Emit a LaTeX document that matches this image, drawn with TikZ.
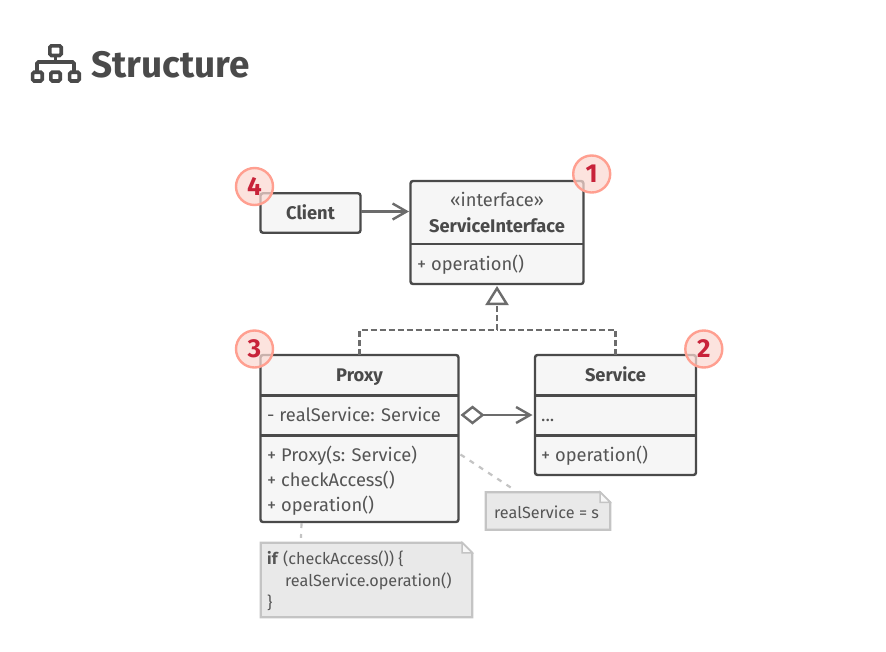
\documentclass[tikz,border=0pt]{standalone}
\usepackage{fontspec}
\setmainfont{Fira Sans}
\usetikzlibrary{arrows.meta,calc}
\definecolor{ink}{HTML}{4A4A4A}
\definecolor{wire}{HTML}{6C6C6C}
\definecolor{txt}{HTML}{555555}
\definecolor{boxfill}{HTML}{F6F6F6}
\definecolor{notefill}{HTML}{E9E9E9}
\definecolor{noteline}{HTML}{C4C4C4}
\definecolor{ring}{HTML}{FF9F90}
\definecolor{badgefill}{HTML}{FBD9D2}
\definecolor{digit}{HTML}{C8233A}
\tikzset{
  classbox/.style={draw=ink,line width=2.4pt,rounded corners=2.5pt,fill=boxfill,inner sep=0pt,outer sep=0pt},
  divider/.style={draw=ink,line width=2.4pt},
  wireline/.style={draw=wire,line width=2.4pt},
  dashline/.style={draw=wire,line width=2.4pt,dash pattern=on 6pt off 3pt},
  dotline/.style={draw=noteline,line width=2.2pt,dash pattern=on 5pt off 6pt},
  memb/.style={anchor=base west,inner sep=0pt,text=txt,font=\fontsize{18.3}{20}\selectfont},
  head/.style={anchor=base,inner sep=0pt,text=ink,font=\fontsize{18.3}{20}\selectfont\bfseries},
  stereo/.style={anchor=base,inner sep=0pt,text=txt,font=\fontsize{18.3}{20}\selectfont},
  notetext/.style={anchor=base west,inner sep=0pt,text=txt,font=\fontsize{16.2}{18}\selectfont},
  noteshape/.style={draw=noteline,line width=2.2pt,fill=notefill,line join=miter},
  badge/.style={circle,draw=ring,line width=2.4pt,fill=badgefill,fill opacity=.72,text opacity=1,minimum size=37pt,inner sep=0pt,text=digit,font=\fontsize{26}{28}\selectfont\bfseries},
  iconpart/.style={draw=ink,line width=3.6pt,rounded corners=1.5pt},
}
\begin{document}
\begin{tikzpicture}[x=1pt,y=-1pt]
\useasboundingbox (0,0) rectangle (886,651);
\fill[white] (0,0) rectangle (886,651);
% title icon
\draw[iconpart] (49.8,45.8) rectangle (61.2,55.5);
\draw[iconpart] (55.5,56) -- (55.5,62);
\draw[iconpart] (37,71) -- (37,62) -- (74,62) -- (74,71);
\draw[iconpart] (32.6,72.2) rectangle (42.2,81);
\draw[iconpart] (50.8,72.2) rectangle (60.2,81);
\draw[iconpart] (69.6,72.2) rectangle (79.2,81);
\node[anchor=base west,inner sep=0pt,text=ink,font=\fontsize{36.9}{40}\selectfont\bfseries] (title) at (91,77) {Structure};
% boxes
\node[classbox,minimum width=100pt,minimum height=39.5pt] (client) at (310.5,213) {};
\node[classbox,minimum width=173pt,minimum height=103pt] (si) at (497,232.5) {};
\node[classbox,minimum width=198pt,minimum height=167pt] (proxy) at (359.5,438.5) {};
\node[classbox,minimum width=161pt,minimum height=120pt] (service) at (615.5,415) {};
\draw[divider] (si.west |- 0,244) -- (si.east |- 0,244);
\draw[divider] (proxy.west |- 0,395.5) -- (proxy.east |- 0,395.5);
\draw[divider] (proxy.west |- 0,435.5) -- (proxy.east |- 0,435.5);
\draw[divider] (service.west |- 0,395.5) -- (service.east |- 0,395.5);
\draw[divider] (service.west |- 0,435.5) -- (service.east |- 0,435.5);
% texts
\node[head] (tclient) at (310.5,219) {Client};
\node[stereo] (tstereo) at (497,206) {«interface»};
\node[head] (tsi) at (497,232.5) {ServiceInterface};
\node[memb] (tsiop) at (417,270) {+ operation()};
\node[head] (tproxy) at (359.5,381.5) {Proxy};
\node[memb] (tpf) at (267,421) {- realService: Service};
\node[memb] (tpm1) at (267,461) {+ Proxy(s: Service)};
\node[memb] (tpm2) at (267,486) {+ checkAccess()};
\node[memb] (tpm3) at (267,511) {+ operation()};
\node[head] (tservice) at (615.5,381.5) {Service};
\node[memb] (tsf) at (541,421) {...};
\node[memb] (tsm) at (541,461) {+ operation()};
% notes
\node[inner sep=0pt,minimum width=124pt,minimum height=37pt] (note1) at (548,511) {};
\draw[noteshape] (note1.south west) -- (note1.north west) -- ([xshift=-10pt]note1.north east) -- ([yshift=-10pt]note1.north east) -- (note1.south east) -- cycle;
\draw[draw=noteline,line width=1.5pt,fill=white!70!notefill] ([xshift=-10pt]note1.north east) -- ([xshift=-10pt,yshift=-10pt]note1.north east) -- ([yshift=-10pt]note1.north east) -- cycle;
\node[notetext] (tn1) at (494,518) {realService = s};
\node[inner sep=0pt,minimum width=211pt,minimum height=74pt] (note2) at (366.5,580) {};
\draw[noteshape] (note2.south west) -- (note2.north west) -- ([xshift=-10pt]note2.north east) -- ([yshift=-10pt]note2.north east) -- (note2.south east) -- cycle;
\draw[draw=noteline,line width=1.5pt,fill=white!70!notefill] ([xshift=-10pt]note2.north east) -- ([xshift=-10pt,yshift=-10pt]note2.north east) -- ([yshift=-10pt]note2.north east) -- cycle;
\node[notetext] (tn2a) at (267,564) {\textbf{if} (checkAccess()) \{};
\node[notetext] (tn2b) at (285,586) {realService.operation()};
\node[notetext] (tn2c) at (267,608) {\}};
% connectors
\coordinate (fork) at (si.south |- 0,330);
\draw[wireline,-{Straight Barb[length=14pt,width=16pt,line width=2.4pt]},shorten >=1.5pt] ([yshift=1.5pt]client.east) -- ([yshift=1.5pt]client.east -| si.west);
\draw[dashline] (proxy.north) |- (fork);
\draw[dashline] (service.north) |- (fork);
\draw[dashline,-{Triangle[open,length=19pt,width=23pt,line width=2.4pt]},shorten >=2pt] (fork) -- (si.south);
\draw[wireline,{Diamond[open,length=24pt,width=19pt,line width=2.4pt]}-{Straight Barb[length=14pt,width=16pt,line width=2.4pt]},shorten <=2pt,shorten >=2.5pt] ([yshift=23.5pt]proxy.east |- proxy.center) -- ([yshift=23.5pt]service.west |- proxy.center);
\draw[dotline] ([yshift=-16pt]proxy.east) ++(2,0) -- ([xshift=-33pt,yshift=2pt]note1.north);
\draw[dotline] ([xshift=-58pt]proxy.south) ++(0,1) -- ([xshift=-65.5pt,yshift=5pt]note2.north);
% badges
\node[badge] (b1) at (591.7,174) {1};
\node[badge] (b2) at (703.8,349) {2};
\node[badge] (b3) at (254.5,349) {3};
\node[badge] (b4) at (254.5,186.5) {4};
\end{tikzpicture}
\end{document}
